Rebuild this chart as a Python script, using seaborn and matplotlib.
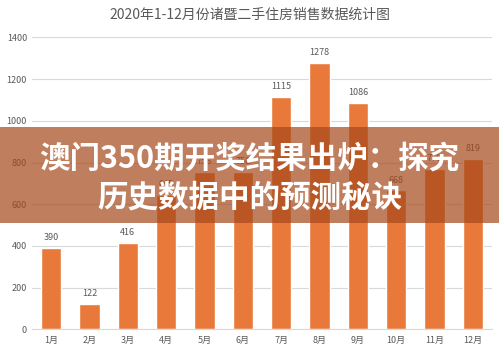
#! /usr/bin/env python3

import numpy as np
import pandas as pd
import seaborn as sns
import matplotlib
matplotlib.use("Agg")
import matplotlib.pyplot as plt
from matplotlib.patches import Rectangle

sns.set_style("white")
plt.rcParams['font.family'] = ['Noto Sans CJK SC', 'DejaVu Sans']

months = ["1月", "2月", "3月", "4月", "5月", "6月", "7月", "8月", "9月", "10月", "11月", "12月"]
sales = [390, 122, 416, 645, 756, 756, 1115, 1278, 1086, 668, 770, 819]
title = "2020年1-12月份诸暨二手住房销售数据统计图"
banner_lines = ["澳门350期开奖结果出炉：探究", "历史数据中的预测秘诀"]

df = pd.DataFrame({"month": months, "sales": sales})

fig = plt.figure(figsize=(4.99, 3.53), dpi=100)
ax = fig.add_axes([0.064, 0.067, 0.922, 0.827])

sns.barplot(data=df, x="month", y="sales", color="#e8793a", saturation=1, width=0.53, ax=ax)
ax.bar_label(ax.containers[0], padding=4, fontsize=6.5, color="#595959")

ax.set_ylim(0, 1400)
ax.set_yticks(range(0, 1401, 200))
ax.yaxis.grid(True, color="#d9d9d9", linewidth=0.8)
ax.set_axisbelow(True)
for s in ["top", "right", "left"]:
    ax.spines[s].set_visible(False)
ax.spines["bottom"].set_color("#d9d9d9")
ax.tick_params(axis="both", length=0, labelsize=6.5, labelcolor="#595959")
ax.tick_params(axis="x", pad=5)
ax.set_xlabel("")
ax.set_ylabel("")

fig.text(0.5, 0.957, title, ha="center", va="center", fontsize=10, color="#595959")

# overlay banner
fig.patches.append(Rectangle((0, 0.368), 1, 0.272, transform=fig.transFigure,
                             facecolor=(165/255, 72/255, 26/255), alpha=0.7,
                             linewidth=0, zorder=5))
fig.text(0.5, 0.552, banner_lines[0], ha="center", va="center", fontsize=22,
         fontweight="black", color="white", zorder=6)
fig.text(0.5, 0.442, banner_lines[1], ha="center", va="center", fontsize=22,
         fontweight="black", color="white", zorder=6)

plt.savefig("out.png", dpi=100)
